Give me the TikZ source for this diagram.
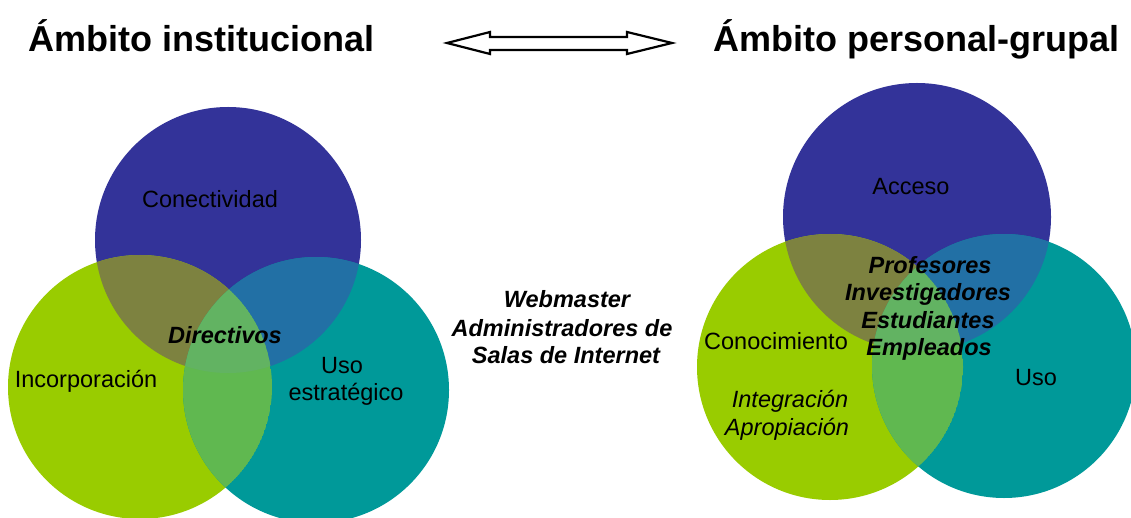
\documentclass[tikz,border=0pt]{standalone}
\usepackage{fontspec}
\setmainfont{Liberation Sans}
\definecolor{cblue}{HTML}{333399}
\definecolor{cgreen}{HTML}{99CC00}
\definecolor{cteal}{HTML}{009999}
\definecolor{cbg}{HTML}{7D8240}
\definecolor{cbt}{HTML}{2270A5}
\definecolor{cgt}{HTML}{60B850}
\definecolor{cbgt}{HTML}{62B362}
\tikzset{
  title/.style={font=\fontsize{36}{40}\selectfont\bfseries, anchor=base west, inner sep=0},
  lbl/.style={font=\fontsize{23.5}{26}\selectfont, anchor=base, inner sep=0},
  lblit/.style={font=\fontsize{23.5}{26}\selectfont\itshape, anchor=base, inner sep=0},
  lblbi/.style={font=\fontsize{23.5}{26}\selectfont\bfseries\itshape, anchor=base, inner sep=0}
}
\begin{document}
\begin{tikzpicture}
		[x=1pt,y=-1pt]
		\useasboundingbox[fill=white] (0,0) rectangle (1131,518);

		% circles of the left side
		\def\lb{(228,240) circle (133pt)}
		\def\lg{(140,387) circle (132pt)}
		\def\lt{(316,390) circle (133pt)}
		% circles of the right side
		\def\rb{(917,217) circle (134pt)}
		\def\rg{(830,367) circle (133pt)}
		\def\rt{(1004,366) circle (132pt)}

		\fill[cblue] \lb; \fill[cgreen] \lg; \fill[cteal] \lt;
		\begin{scope} \clip \lb; \fill[cbg] \lg; \fill[cbt] \lt; \end{scope}
		\begin{scope} \clip \lg; \clip \lt; \fill[cgt] \lg; \end{scope}
		\begin{scope} \clip \lb; \clip \lg; \fill[cbgt] \lt; \end{scope}

		\fill[cblue] \rb; \fill[cgreen] \rg; \fill[cteal] \rt;
		\begin{scope} \clip \rb; \fill[cbg] \rg; \fill[cbt] \rt; \end{scope}
		\begin{scope} \clip \rg; \clip \rt; \fill[cgt] \rg; \end{scope}
		\begin{scope} \clip \rb; \clip \rg; \fill[cbgt] \rt; \end{scope}

		% titles and the arrow between them
		\node[title] (t1) at (28,52) {Ámbito institucional};
		\node[title] (t2) at (713,52) {Ámbito personal-grupal};
		\draw[line width=2.2pt,line join=miter] (447,43) -- (490,32) -- (490,37) -- (627,37) -- (627,32)
			-- (672,43) -- (627,54) -- (627,50) -- (490,50) -- (490,54) -- cycle;

		\node[lbl] (con) at (210,208) {Conectividad};
		\node[lblbi] (dir) at (225,343) {Directivos};
		\node[lbl] (inc) at (86,387) {Incorporación};
		\node[lbl] (uso1) at (342,373) {Uso};
		\node[lbl] (est) at (346,400) {estratégico};

		\node[lblbi] (web) at (567,308) {Webmaster};
		\node[lblbi] (adm) at (562,336) {Administradores de};
		\node[lblbi] (sal) at (566,363) {Salas de Internet};

		\node[lbl] (acc) at (911,195) {Acceso};
		\node[lblbi] (pro) at (930,273) {Profesores};
		\node[lblbi] (inv) at (928,300) {Investigadores};
		\node[lblbi] (estu) at (928,328) {Estudiantes};
		\node[lblbi] (emp) at (929,355) {Empleados};
		\node[lbl] (cono) at (776,349) {Conocimiento};
		\node[lblit] (inte) at (790,407) {Integración};
		\node[lblit] (apro) at (787,435) {Apropiación};
		\node[lbl] (uso2) at (1036,385) {Uso};

	\end{tikzpicture}
\end{document}
